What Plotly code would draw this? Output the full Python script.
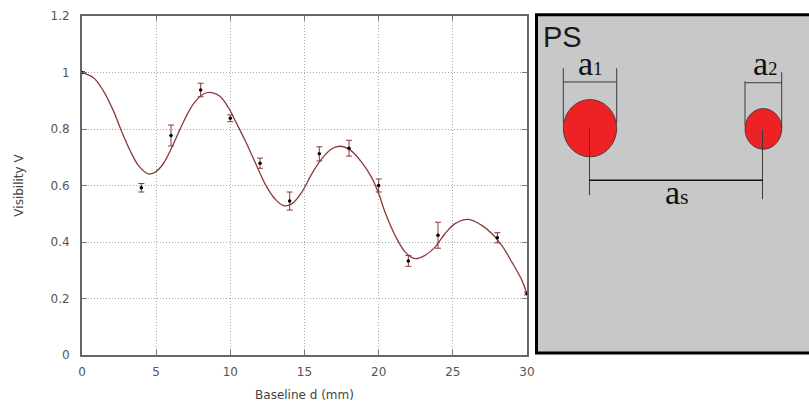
import plotly.graph_objects as go

# ---- data ----
baseline_mm = [0, 4, 6, 8, 10, 12, 14, 16, 18, 20, 22, 24, 28, 30]
visibility = [1.0, 0.592, 0.777, 0.938, 0.838, 0.679, 0.545, 0.712, 0.732, 0.600, 0.333, 0.424, 0.415, 0.218]
vis_err = [0.003, 0.015, 0.037, 0.024, 0.012, 0.018, 0.032, 0.025, 0.028, 0.023, 0.019, 0.046, 0.018, 0.005]

fit_d = [0, 0.76, 1.44, 2.11, 2.56, 3.24, 3.80, 4.47, 4.92, 5.48, 6.16, 6.83, 7.5, 8.18, 8.74, 9.3,
         9.87, 10.32, 11.0, 11.67, 12.34, 13.0, 13.57, 14.14, 14.81, 15.49, 16.16, 16.84, 17.4,
         18.07, 18.86, 19.53, 20.0, 20.43, 21.1, 21.78, 22.45, 23.13, 23.8, 24.48, 25.15, 26.05,
         26.95, 27.63, 28.3, 28.98, 29.65, 30]
fit_v = [1.0, 0.982, 0.935, 0.865, 0.806, 0.724, 0.671, 0.641, 0.647, 0.677, 0.747, 0.824, 0.888, 0.924, 0.929, 0.916,
         0.876, 0.83, 0.759, 0.682, 0.606, 0.553, 0.529, 0.535, 0.576, 0.641, 0.694, 0.73, 0.739,
         0.726, 0.682, 0.628, 0.572, 0.505, 0.424, 0.365, 0.341, 0.353, 0.382, 0.43, 0.465, 0.48,
         0.459, 0.43, 0.388, 0.329, 0.265, 0.215]

x_ticks = [0, 5, 10, 15, 20, 25, 30]
y_ticks = [0, 0.2, 0.4, 0.6, 0.8, 1.0, 1.2]
y_tick_text = ["0", "0.2", "0.4", "0.6", "0.8", "1", "1.2"]

MAROON = "#8b3a3a"

fig = go.Figure()
fig.add_trace(go.Scatter(x=fit_d, y=fit_v, mode="lines", line=dict(color=MAROON, width=1.3, shape="spline"),
                         hoverinfo="skip", showlegend=False))
fig.add_trace(go.Scatter(x=baseline_mm, y=visibility, mode="markers",
                         marker=dict(color="black", size=3.5),
                         error_y=dict(type="data", array=vis_err, color=MAROON, thickness=1, width=3),
                         showlegend=False))

# ---- geometry helpers (pixel -> paper) ----
L, R, T, B = 82, 527, 15.7, 355
W, H = R - L, B - T


def px(x):
    return (x - L) / W


def py(y):
    return (B - y) / H


shapes = []
# right panel
shapes.append(dict(type="rect", xref="paper", yref="paper", x0=px(536.5), x1=px(815), y0=py(353), y1=py(14.5),
                   fillcolor="#c8c8c8", line=dict(color="black", width=3), layer="above"))
# circles
shapes.append(dict(type="circle", xref="paper", yref="paper", x0=px(563.3), x1=px(616.7), y0=py(156.7), y1=py(99.3),
                   fillcolor="#ee2124", line=dict(color="#333", width=0.8), layer="above"))
shapes.append(dict(type="circle", xref="paper", yref="paper", x0=px(745), x1=px(781.7), y0=py(149), y1=py(108.3),
                   fillcolor="#ee2124", line=dict(color="#333", width=0.8), layer="above"))
# dimension lines
dim = [
    (563.3, 68, 563.3, 123), (616.7, 68, 616.7, 123), (563.3, 81.7, 616.7, 81.7),
    (745, 81, 745, 125), (781.7, 72, 781.7, 128), (745, 82.5, 781.7, 82.5),
    (589.5, 128, 589.5, 195), (762.5, 130, 762.5, 199),
]
for x0, y0, x1, y1 in dim:
    shapes.append(dict(type="line", xref="paper", yref="paper", x0=px(x0), y0=py(y0), x1=px(x1), y1=py(y1),
                       line=dict(color="#3a3a3a", width=1), layer="above"))
shapes.append(dict(type="line", xref="paper", yref="paper", x0=px(589.5), y0=py(180), x1=px(762.5), y1=py(180),
                   line=dict(color="#111", width=1.5), layer="above"))

serif = "Liberation Serif"
ann = [
    dict(text="PS", x=px(541), y=py(19), xanchor="left", yanchor="top",
         font=dict(family="Liberation Sans", size=29, color="#1a1a1a")),
    dict(text="a<span style='font-size:19px'>1</span>", x=px(590), y=py(63), xanchor="center", yanchor="middle",
         font=dict(family=serif, size=34, color="#111")),
    dict(text="a<span style='font-size:19px'>2</span>", x=px(765), y=py(63), xanchor="center", yanchor="middle",
         font=dict(family=serif, size=34, color="#111")),
    dict(text="a<span style='font-size:22px'>s</span>", x=px(677), y=py(192), xanchor="center", yanchor="middle",
         font=dict(family=serif, size=34, color="#111")),
]
for a in ann:
    a.update(xref="paper", yref="paper", showarrow=False)

axis_common = dict(showline=True, mirror="allticks", linecolor="#666", linewidth=2, ticks="inside", ticklen=5,
                   tickcolor="#777", showgrid=True, gridcolor="#a8a8a8", griddash="1px,2px", gridwidth=1,
                   zeroline=False, automargin=False,
                   tickfont=dict(family="DejaVu Sans", size=12, color="#555"))

fig.update_layout(
    width=809, height=405,
    margin=dict(l=L, r=809 - R, t=T, b=405 - B),
    paper_bgcolor="white", plot_bgcolor="white",
    xaxis=dict(range=[0, 30], tickvals=x_ticks, ticklabelstandoff=5,
               title=dict(text="Baseline d (mm)", standoff=12,
                          font=dict(family="DejaVu Sans", size=12, color="#444")), **axis_common),
    yaxis=dict(range=[0, 1.2], tickvals=y_ticks, ticktext=y_tick_text, ticklabelstandoff=8,
               title=dict(text="Visibility V", standoff=24, font=dict(family="DejaVu Sans", size=12, color="#444")),
               **axis_common),
    shapes=shapes, annotations=ann,
)

fig.write_html("out.html")
